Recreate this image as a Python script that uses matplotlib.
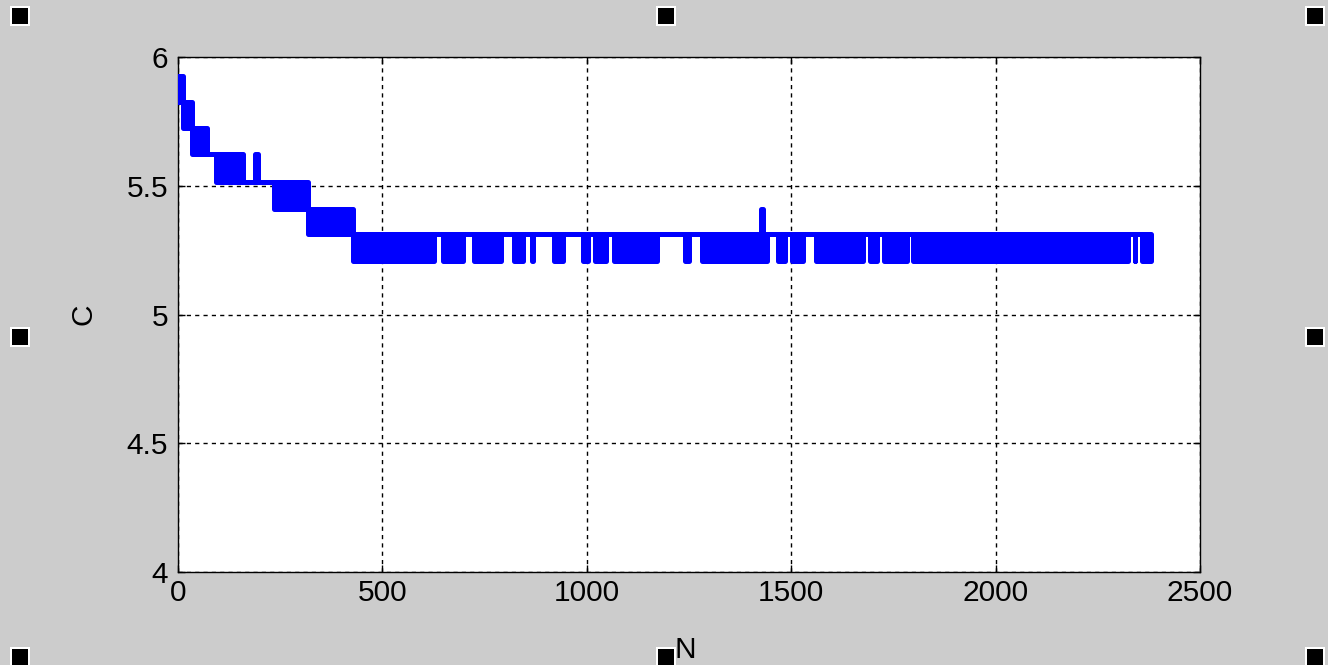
import matplotlib.pyplot as plt
from matplotlib.patches import Rectangle

plt.rcParams['font.family'] = ['Liberation Sans', 'DejaVu Sans']

# envelope of the C(N) trace: each piece starts at n_start and runs to the
# next start; inside a piece the trace flips between c_low and c_high
n_start = [0, 12, 34, 72, 92, 158, 189, 195, 234, 317, 427,
           626, 648, 698, 723, 789, 821, 843, 865, 868, 920, 941, 992,
           1002, 1021, 1048, 1067, 1173, 1241, 1251, 1283, 1426, 1430,
           1442, 1467, 1484, 1501, 1528, 1560, 1676, 1693, 1709, 1728,
           1783, 1799, 2323, 2340, 2342, 2359]
n_end = 2379
c_high = [5.926, 5.826, 5.725, 5.624, 5.624, 5.513, 5.624, 5.513, 5.513, 5.411, 5.311,
          5.311, 5.311, 5.311, 5.311, 5.311, 5.311, 5.311, 5.311, 5.311, 5.311, 5.311, 5.311,
          5.311, 5.311, 5.311, 5.311, 5.311, 5.311, 5.311, 5.311, 5.411, 5.311,
          5.311, 5.311, 5.311, 5.311, 5.311, 5.311, 5.311, 5.311, 5.311, 5.311,
          5.311, 5.311, 5.311, 5.311, 5.311, 5.311]
c_low = [5.826, 5.725, 5.624, 5.624, 5.513, 5.513, 5.513, 5.513, 5.411, 5.311, 5.209,
         5.311, 5.209, 5.311, 5.209, 5.311, 5.209, 5.311, 5.209, 5.311, 5.209, 5.311, 5.209,
         5.311, 5.209, 5.311, 5.209, 5.311, 5.209, 5.311, 5.209, 5.209, 5.209,
         5.311, 5.209, 5.311, 5.209, 5.311, 5.209, 5.311, 5.209, 5.311, 5.209,
         5.311, 5.209, 5.311, 5.209, 5.311, 5.209]

x_ticks = [0, 500, 1000, 1500, 2000, 2500]
y_ticks = [4, 4.5, 5, 5.5, 6]
y_tick_labels = ['4', '4.5', '5', '5.5', '6']

fig = plt.figure(figsize=(13.28, 6.65), dpi=100, facecolor='#cccccc')
ax = fig.add_axes([0.134, 0.1398, 0.7696, 0.7744])

x = n_start + [n_end]
hi = c_high + [c_high[-1]]
lo = c_low + [c_low[-1]]
ax.fill_between(x, lo, hi, step='post', facecolor='#0000ff',
                edgecolor='#0000ff', linewidth=3.6, zorder=3)

ax.set_xlim(0, 2500)
ax.set_ylim(4, 6)
ax.set_xticks(x_ticks)
ax.set_yticks(y_ticks)
ax.set_yticklabels(y_tick_labels)
ax.tick_params(direction='in', length=5, width=1, labelsize=21.5, pad=7,
               top=True, right=True, colors='black')
ax.tick_params(axis='x', pad=5)
ax.grid(True, color='black', linestyle=(0, (3, 3)), linewidth=1)
ax.set_axisbelow(True)
for s in ax.spines.values():
    s.set_linewidth(1)

ax.set_xlabel('N', fontsize=21.5)
ax.xaxis.set_label_coords(0.496, -0.124)
ax.set_ylabel('C', fontsize=21.5)
ax.yaxis.set_label_coords(-0.079, 0.5)

# selection handles around the figure
handles = [(20, 16), (666, 16), (1315, 16), (20, 337), (1315, 337),
           (20, 657), (666, 657), (1315, 657)]
W, H = 1328, 665
for hx, hy in handles:
    fig.add_artist(Rectangle(((hx - 10) / W, 1 - (hy + 10) / H), 20 / W, 20 / H,
                             transform=fig.transFigure, facecolor='white',
                             edgecolor='none'))
    fig.add_artist(Rectangle(((hx - 8) / W, 1 - (hy + 8) / H), 16 / W, 16 / H,
                             transform=fig.transFigure, facecolor='black',
                             edgecolor='none'))

fig.savefig('out.png', dpi=100, facecolor=fig.get_facecolor())
